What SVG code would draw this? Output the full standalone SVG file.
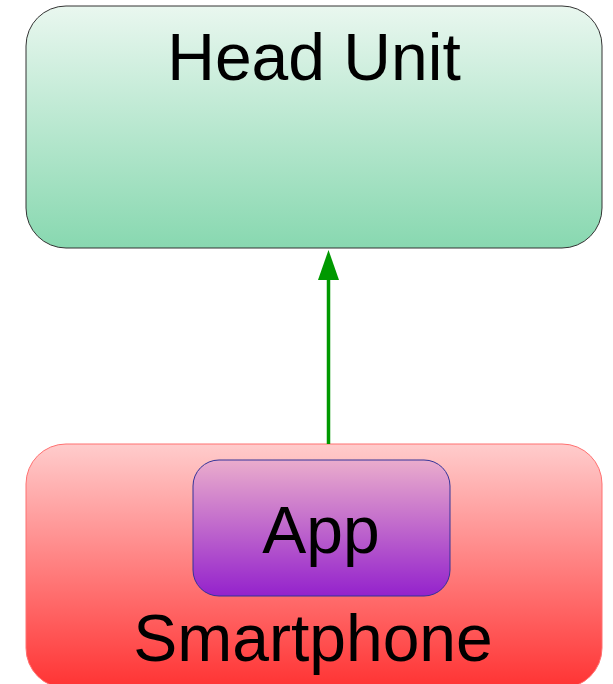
<svg xmlns="http://www.w3.org/2000/svg" width="613" height="684" viewBox="0 0 613 684">
  <defs>
    <linearGradient id="gHead" x1="0" y1="0" x2="0" y2="1">
      <stop offset="0" stop-color="#e9f7ef"/>
      <stop offset="1" stop-color="#88d8b0"/>
    </linearGradient>
    <linearGradient id="gPhone" x1="0" y1="0" x2="0" y2="1">
      <stop offset="0" stop-color="#ffcccc"/>
      <stop offset="1" stop-color="#ff3333"/>
    </linearGradient>
    <linearGradient id="gApp" x1="0" y1="0" x2="0" y2="1">
      <stop offset="0" stop-color="#eaaccc"/>
      <stop offset="1" stop-color="#9422cc"/>
    </linearGradient>
  </defs>
  <style>
    .label { font-family: "Liberation Sans", Arial, sans-serif; font-size: 66px; fill: #000; text-anchor: middle; }
  </style>

  <g id="head-unit">
    <rect x="26" y="6" width="576" height="242" rx="40" ry="40" fill="url(#gHead)" stroke="#333" stroke-width="1"/>
    <text class="label" x="314" y="80">Head Unit</text>
  </g>

  <g id="smartphone">
    <rect x="26" y="444" width="576" height="244" rx="40" ry="40" fill="url(#gPhone)" stroke="#ff7070" stroke-width="1"/>
    <text class="label" x="313" y="661">Smartphone</text>
  </g>

  <g id="app">
    <rect x="193" y="460" width="257" height="136" rx="26" ry="26" fill="url(#gApp)" stroke="#333399" stroke-width="1"/>
    <text class="label" x="321" y="553">App</text>
  </g>

  <g id="connectors">
    <line x1="328.5" y1="444" x2="328.5" y2="276" stroke="#009900" stroke-width="3.5"/>
    <polygon points="328.5,250 318,280 339,280" fill="#009900"/>
  </g>
</svg>
